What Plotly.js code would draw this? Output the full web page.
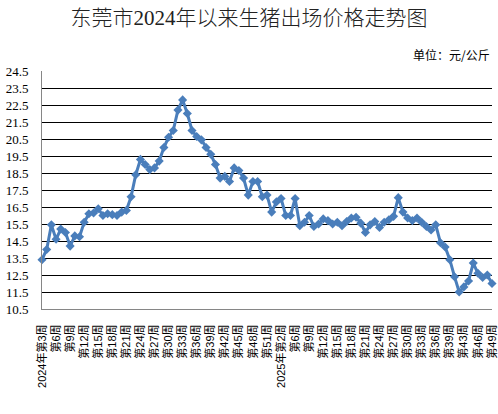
<!DOCTYPE html>
<html>
<head>
<meta charset="utf-8">
<script src="https://cdn.plot.ly/plotly-3.0.1.min.js"></script>
<style>html,body{margin:0;padding:0;background:#fff;}#chart{width:498px;height:414px;}</style>
</head>
<body>
<div id="chart"></div>
<script>
// Week numbers covered by the series
const weeks2024 = [3,4,5,6,7,8,9,10,11,12,13,14,15,16,17,18,19,20,21,22,23,24,25,26,27,28,29,30,31,32,33,34,35,36,37,38,39,40,41,42,43,44,45,46,47,48,49,50,51,52];
const weeks2025 = [1,2,3,5,6,7,8,9,10,11,12,13,14,15,16,17,18,19,20,21,22,23,24,25,26,27,28,29,30,31,32,33,34,35,36,37,38,39,40,42,43,44,45,46,47,48,49];

// Price, yuan/kg
const prices = [
  13.4, 14.0, 15.45, 14.6, 15.2, 15.0, 14.2, 14.8, 14.75, 15.6,
  16.1, 16.15, 16.4, 16.0, 16.1, 16.05, 16.0, 16.2, 16.3, 17.1,
  18.4, 19.3, 19.0, 18.7, 18.8, 19.2, 20.0, 20.6, 21.0, 22.2,
  22.8, 22.0, 21.0, 20.65, 20.45, 20.0, 19.6, 19.0, 18.2, 18.3,
  18.0, 18.8, 18.65, 18.2, 17.2, 18.0, 18.0, 17.1, 17.2, 16.2,
  16.8, 17.0, 16.0, 16.0, 17.0, 15.4, 15.6, 16.0, 15.35, 15.5,
  15.8, 15.7, 15.5, 15.6, 15.4, 15.65, 15.85, 15.9, 15.55, 15.0,
  15.45, 15.65, 15.3, 15.6, 15.75, 15.95, 17.05, 16.2, 15.85, 15.7,
  15.85, 15.6, 15.35, 15.15, 15.45, 14.4, 14.15, 13.4, 12.4, 11.5,
  11.8, 12.15, 13.2, 12.6, 12.35, 12.5, 12.0
];

// Tick labels shown (every third week)
const tickLabels = [
  "2024年第3周","第6周","第9周","第12周","第15周","第18周","第21周","第24周","第27周","第30周",
  "第33周","第36周","第39周","第42周","第45周","第48周","第51周",
  "2025年第2周","第6周","第9周","第12周","第15周","第18周","第21周","第24周","第27周","第30周",
  "第33周","第36周","第39周","第43周","第46周","第49周"
];

const categories = weeks2024.map(w => "2024年第" + w + "周")
  .concat(weeks2025.map(w => "2025年第" + w + "周"));
const tickVals = categories.filter((c, i) => i % 3 === 0);

const trace = {
  x: categories,
  y: prices,
  type: 'scatter',
  mode: 'lines+markers',
  line: {color: '#4A7EBB', width: 3},
  marker: {symbol: 'diamond', size: 7, color: '#4A7EBB'},
  cliponaxis: false,
  hoverinfo: 'x+y'
};

const layout = {
  width: 498, height: 414,
  margin: {l: 42, r: 6, t: 71, b: 105},
  paper_bgcolor: '#fff', plot_bgcolor: '#fff',
  showlegend: false,
  title: {
    text: '东莞市2024年以来生猪出场价格走势图',
    x: 0.5, xanchor: 'center', y: 0.958, yanchor: 'middle',
    font: {family: '"Liberation Serif", "Noto Sans CJK SC", serif', size: 21, color: '#222', weight: 300}
  },
  annotations: [{
    text: '单位：元/公斤', xref: 'paper', yref: 'paper',
    x: 1, xanchor: 'right', y: 1, yanchor: 'bottom', yshift: 6,
    showarrow: false,
    font: {family: '"Noto Sans CJK SC", sans-serif', size: 12, color: '#000'}
  }],
  xaxis: {
    type: 'category',
    range: [0, categories.length - 1],
    tickmode: 'array', tickvals: tickVals, ticktext: tickLabels,
    tickangle: -90,
    ticks: '', ticklabelstandoff: 10,
    showgrid: false, zeroline: false,
    showline: true, linecolor: '#868686', linewidth: 1,
    tickfont: {family: '"Liberation Sans", "Noto Sans CJK SC", sans-serif', size: 11, color: '#000'}
  },
  yaxis: {
    range: [10.5, 24.5],
    tick0: 10.5, dtick: 1, tickformat: '.1f',
    ticks: '', ticklabelstandoff: 10,
    showgrid: true, gridcolor: '#000', gridwidth: 1,
    zeroline: false,
    showline: true, linecolor: '#868686', linewidth: 1,
    tickfont: {family: '"Liberation Serif", serif', size: 13, color: '#000'}
  }
};

Plotly.newPlot('chart', [trace], layout, {displayModeBar: false, staticPlot: true});
</script>
</body>
</html>
